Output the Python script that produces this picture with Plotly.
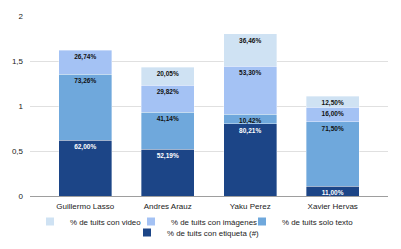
import plotly.graph_objects as go

categories = ["Guillermo Lasso", "Andres Arauz", "Yaku Perez", "Xavier Hervas"]
etiqueta = [0.62, 0.5219, 0.8021, 0.11]
solo_texto = [0.7326, 0.4114, 0.1042, 0.715]
imagenes = [0.2674, 0.2982, 0.533, 0.16]
video = [None, 0.2005, 0.3646, 0.125]

FONT = "Liberation Sans, Arial, sans-serif"

series = [
    ("% de tuits con etiqueta (#)", etiqueta, "#1c4587", "white", "legend4"),
    ("% de tuits solo texto", solo_texto, "#6fa8dc", "#111111", "legend3"),
    ("% de tuits con imágenes", imagenes, "#a4c2f4", "#111111", "legend2"),
    ("% de tuits con video", video, "#cfe2f3", "#111111", "legend"),
]

def fmt(v):
    if v is None:
        return ""
    return f"{v*100:.2f}".replace(".", ",") + "%"

fig = go.Figure()
for name, vals, color, tcolor, lg in series:
    fig.add_trace(go.Bar(
        x=categories, y=vals, name=name, showlegend=False,
        marker=dict(color=color, line=dict(color="rgba(255,255,255,0.6)", width=0.6)),
        text=[fmt(v) for v in vals], textposition="inside", insidetextanchor="end",
        textfont=dict(color=tcolor, size=6.5, family=FONT),
        texttemplate="<b>%{text}</b>", width=0.64,
    ))
    # legend entry with a small square symbol
    fig.add_trace(go.Scatter(
        x=[None], y=[None], mode="markers", name=name, legend=lg,
        marker=dict(symbol="square", size=8, color=color),
        showlegend=True,
    ))

W, H = 401, 249
ML, MR, MT, MB = 30, 0, 16, 53
PW, PH = W - ML - MR, H - MT - MB
AXIS_RIGHT = 388  # right end of the gridlines, in pixels

# legend item positions (pixels): left edge, top edge -> paper coords
leg_pos = {"legend": (30, 207), "legend2": (131, 207), "legend3": (242, 207), "legend4": (127, 218)}
legends = {}
for key, (px, py) in leg_pos.items():
    legends[key] = dict(
        x=(px - ML) / PW, y=(H - MB - py) / PH,
        xanchor="left", yanchor="top", orientation="h",
        font=dict(size=7.9, family=FONT, color="#222222"), itemwidth=30,
        itemsizing="trace", bgcolor="rgba(0,0,0,0)", borderwidth=0,
    )

fig.update_layout(
    barmode="stack",
    width=W, height=H,
    margin=dict(l=ML, r=MR, t=MT, b=MB),
    paper_bgcolor="white", plot_bgcolor="rgba(0,0,0,0)",
    separators=",.",
    font=dict(family=FONT, size=8, color="#222222"),
    uniformtext=dict(minsize=6.5, mode="show"),
    xaxis=dict(domain=[0, (AXIS_RIGHT - ML) / PW], range=[-0.67, 3.67],
               showline=True, linecolor="#9e9e9e", linewidth=1,
               ticks="", tickfont=dict(size=8, color="#222222"), showgrid=False,
               ticklabelstandoff=2),
    yaxis=dict(range=[0, 2], tickvals=[0, 0.5, 1, 1.5, 2], ticktext=["0", "0,5", "1", "1,5", "2"],
               gridcolor="#e0e0e0", zeroline=False, tickfont=dict(size=8, color="#222222"),
               ticklabelstandoff=6),
    **legends,
)

fig.write_html(
    "out.html",
    config={"displayModeBar": False},
    post_script="document.body.style.margin='0px';document.body.style.overflow='hidden';",
)
